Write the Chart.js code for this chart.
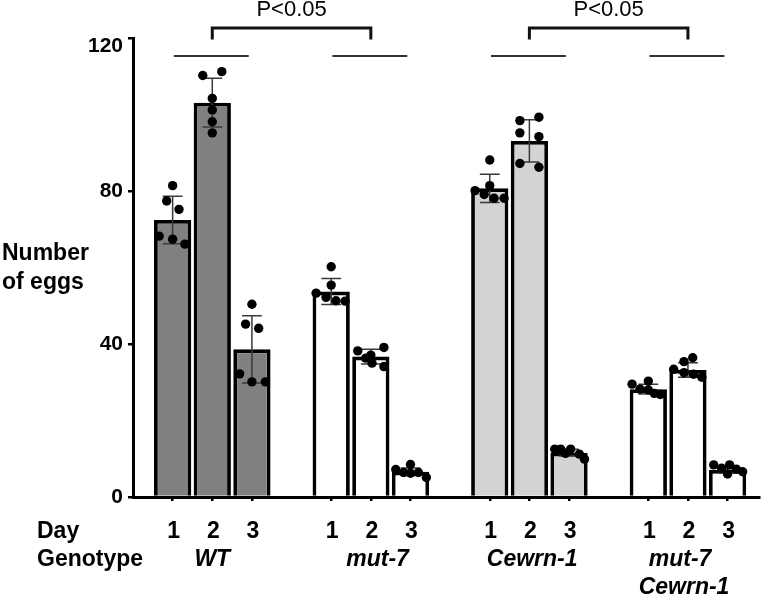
<!DOCTYPE html>
<html>
<head>
<meta charset="utf-8">
<script src="https://cdn.jsdelivr.net/npm/chart.js@4"></script>
<style>
html,body{margin:0;padding:0;background:#fff;}
canvas{display:block;}
</style>
</head>
<body>
<canvas id="c" width="764" height="595"></canvas>
<script>
// ---- data ----
const genotypes = ['WT', 'mut-7', 'Cewrn-1', ['mut-7', 'Cewrn-1']];
const days = ['1', '2', '3'];
const yTicks = [0, 40, 80, 120];
// mean number of eggs per genotype/day (WT d1..d3, mut-7 d1..d3, Cewrn-1 d1..d3, mut-7;Cewrn-1 d1..d3)
const meanEggs = [72.4, 103.1, 38.6, 53.7, 36.7, 6.6, 80.7, 93.1, 11.6, 28.2, 33.2, 7.1];
const sdEggs = [6.2, 6.4, 8.8, 3.4, 1.9, 1.0, 3.7, 5.5, 0.9, 1.3, 1.9, 0.8];
// individual animals
const wormEggs = [
  [81.4, 77.4, 75.2, 68.2, 67.4, 66.1],
  [110.2, 111.2, 104.2, 101.2, 98.1, 95.2],
  [50.4, 45.2, 44.1, 32.2, 30.1, 30.1],
  [60.2, 55.4, 53.3, 52.2, 51.3, 51.2],
  [38.2, 39.1, 37.1, 36.3, 35.0, 34.1],
  [7.2, 8.5, 6.4, 6.2, 6.4, 5.1],
  [88.1, 81.4, 80.1, 79.1, 78.1, 78.1],
  [98.4, 99.3, 95.2, 94.2, 87.2, 86.2],
  [12.5, 12.5, 12.5, 11.4, 11.2, 9.9],
  [29.5, 30.3, 28.2, 28.0, 27.1, 26.8],
  [33.4, 35.4, 36.4, 32.5, 32.1, 31.3],
  [8.4, 8.4, 7.5, 7.3, 6.6, 6.0]
];
// horizontal jitter of each dot, in bar-slot units
const dotJitter = [
  [0, -0.15, 0.16, -0.34, 0, 0.31],
  [-0.24, 0.24, 0, 0, 0, 0],
  [0, -0.16, 0.17, -0.31, 0, 0.34],
  [0, 0, -0.38, -0.13, 0.12, 0.35],
  [-0.33, 0.33, 0, -0.13, 0.03, 0.33],
  [-0.37, 0, -0.17, 0, 0.2, 0.4],
  [0, 0, -0.37, -0.14, 0.11, 0.36],
  [-0.24, 0.24, -0.24, 0.24, -0.24, 0.24],
  [-0.36, -0.21, 0.04, -0.09, 0.26, 0.39],
  [-0.41, 0, -0.21, 0, 0.15, 0.3],
  [-0.36, -0.1, 0.12, -0.1, 0.14, 0.35],
  [-0.35, 0.05, -0.15, 0.22, 0.38, 0]
];
const comparisons = [[0, 1], [2, 3]]; // genotype pairs compared on day 2
const pLabel = 'P<0.05';
const genoColors = ['#808080', '#ffffff', '#d3d3d3', '#ffffff'];

// ---- build ----
const nDays = days.length;
const slotOf = i => Math.floor(i / nDays) * (nDays + 1) + (i % nDays);
const barData = meanEggs.map((m, i) => ({x: slotOf(i), y: m}));
const dotData = [];
wormEggs.forEach((arr, i) => arr.forEach((v, k) => dotData.push({x: slotOf(i) + dotJitter[i][k], y: v})));

const FONT = '"Liberation Sans", Arial, sans-serif';

const decor = {
  id: 'decor',
  afterDatasetDraw(chart, args) {
    if (args.index !== 1) return;
    const xs = chart.scales.x, ys = chart.scales.y, ctx = chart.ctx;
    ctx.save();
    ctx.strokeStyle = '#3a3a3a';
    ctx.lineWidth = 1.5;
    const capHalf = 0.25;
    meanEggs.forEach((m, i) => {
      const s = slotOf(i);
      const x = xs.getPixelForValue(s);
      const yt = ys.getPixelForValue(m + sdEggs[i]);
      const yb = ys.getPixelForValue(m - sdEggs[i]);
      const xl = xs.getPixelForValue(s - capHalf), xr = xs.getPixelForValue(s + capHalf);
      ctx.beginPath();
      ctx.moveTo(x, yt); ctx.lineTo(x, yb);
      ctx.moveTo(xl, yt); ctx.lineTo(xr, yt);
      ctx.moveTo(xl, yb); ctx.lineTo(xr, yb);
      ctx.stroke();
    });
    ctx.restore();
  },
  afterDraw(chart) {
    const xs = chart.scales.x, ys = chart.scales.y, ctx = chart.ctx;
    ctx.save();
    ctx.fillStyle = '#000';
    ctx.textBaseline = 'middle';
    // y title
    ctx.font = 'bold 23px ' + FONT;
    ctx.textAlign = 'left';
    ctx.fillText('Number', 2, 254);
    ctx.fillText('of eggs', 2, 283);
    // bottom rows
    ctx.fillText('Day', 37, 532);
    ctx.fillText('Genotype', 37, 560);
    ctx.textAlign = 'center';
    meanEggs.forEach((m, i) => {
      ctx.fillText(days[i % nDays], xs.getPixelForValue(slotOf(i)) + 1, 532);
    });
    ctx.font = 'italic bold 23px ' + FONT;
    const labelShift = [0, 0.17, 0.07, -0.2];
    genotypes.forEach((g, gi) => {
      const x = xs.getPixelForValue(slotOf(gi * nDays + 1) + labelShift[gi]);
      const lines = Array.isArray(g) ? g : [g];
      lines.forEach((ln, li) => ctx.fillText(ln, x + (li ? 4 : 0), 560 + li * 28));
    });
    // group lines
    ctx.strokeStyle = '#333';
    ctx.lineWidth = 2;
    const yLine = ys.getPixelForValue(115.3);
    genotypes.forEach((g, gi) => {
      ctx.beginPath();
      ctx.moveTo(xs.getPixelForValue(slotOf(gi * nDays) + 0.03), yLine);
      ctx.lineTo(xs.getPixelForValue(slotOf(gi * nDays + nDays - 1) - 0.08), yLine);
      ctx.stroke();
    });
    // brackets
    ctx.strokeStyle = '#111';
    ctx.lineWidth = 3;
    const yTop = ys.getPixelForValue(122.6), yLeg = ys.getPixelForValue(119.6);
    ctx.font = '22px ' + FONT;
    comparisons.forEach(([a, b]) => {
      const xa = xs.getPixelForValue(slotOf(a * nDays + 1));
      const xb = xs.getPixelForValue(slotOf(b * nDays + 1));
      ctx.beginPath();
      ctx.moveTo(xa, yLeg); ctx.lineTo(xa, yTop); ctx.lineTo(xb, yTop); ctx.lineTo(xb, yLeg);
      ctx.stroke();
      ctx.fillText(pLabel, (xa + xb) / 2, 10);
    });
    ctx.restore();
  }
};

new Chart(document.getElementById('c'), {
  type: 'bar',
  data: {
    datasets: [
      {type: 'scatter', data: dotData, pointRadius: 4.7, pointBackgroundColor: '#000', pointBorderWidth: 0, order: 0},
      {type: 'bar', data: barData, backgroundColor: barData.map((p, i) => genoColors[Math.floor(i / nDays)]),
       borderColor: '#000', borderWidth: 3.8, barPercentage: 0.94, categoryPercentage: 1, order: 1}
    ]
  },
  options: {
    responsive: false,
    animation: false,
    layout: {padding: {top: 38, left: 0, right: 0, bottom: 0}},
    plugins: {legend: {display: false}, tooltip: {enabled: false}},
    scales: {
      x: {
        type: 'linear', min: -1, max: 14.8, offset: false,
        afterBuildTicks: s => { s.ticks = barData.map(p => ({value: p.x})); },
        ticks: {display: false},
        grid: {drawOnChartArea: false, drawTicks: true, tickLength: 4, color: '#000', lineWidth: 2.5, offset: false},
        border: {color: '#000', width: 3},
        afterFit: s => { s.height = 98; }
      },
      y: {
        min: 0, max: 120,
        afterBuildTicks: s => { s.ticks = yTicks.map(v => ({value: v})); },
        ticks: {
          color: '#000', padding: 5,
          font: {family: FONT, size: 21, weight: 'bold', lineHeight: 0.76},
          callback: v => v === yTicks[yTicks.length - 1] ? ['', String(v)] : String(v)
        },
        grid: {drawOnChartArea: false, tickLength: 5, color: '#000', lineWidth: 2.5},
        border: {color: '#000', width: 3},
        afterFit: s => { s.width = 133; }
      }
    }
  },
  plugins: [decor]
});
</script>
</body>
</html>
